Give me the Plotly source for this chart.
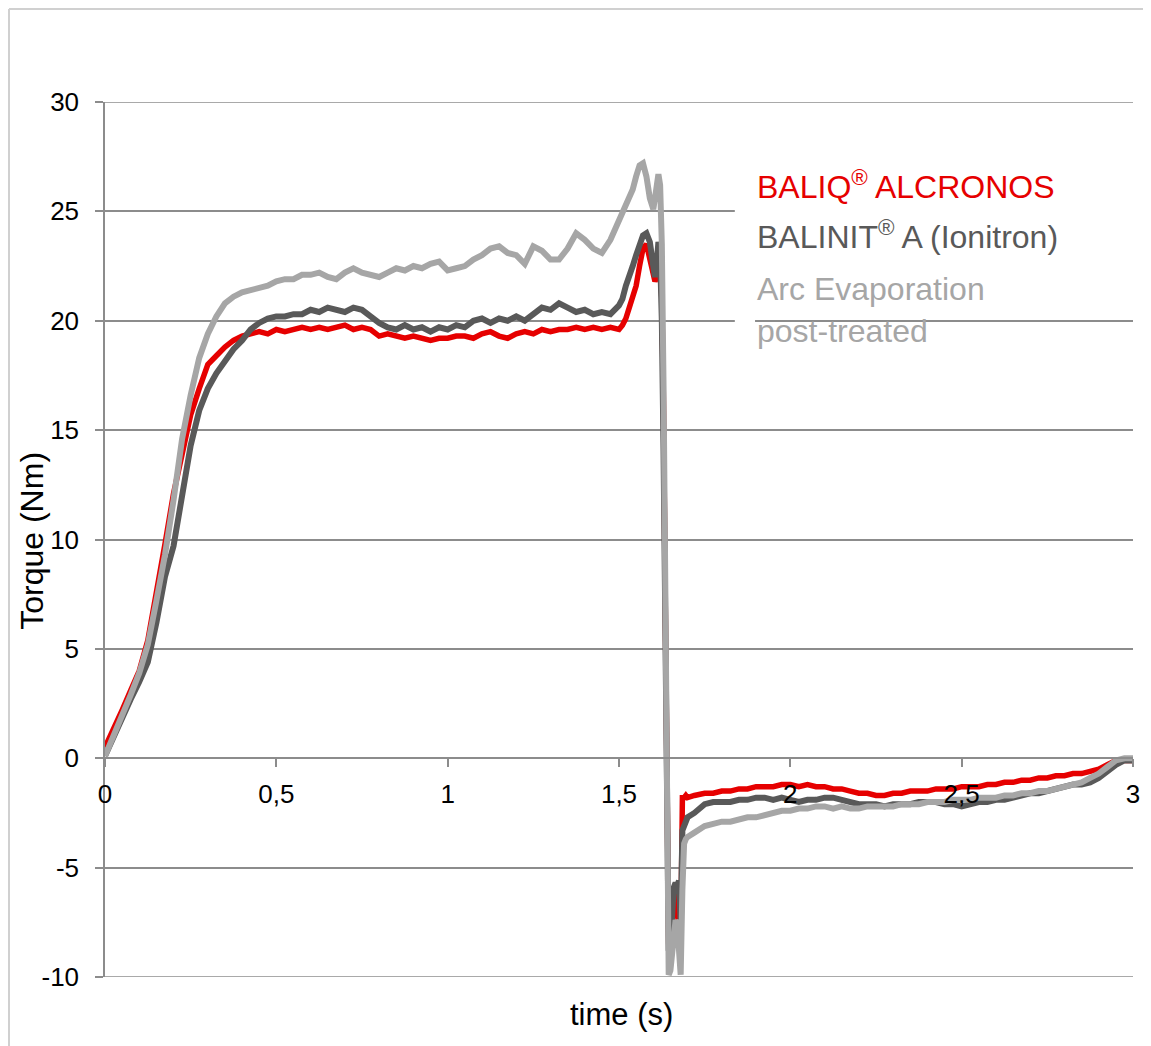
import plotly.graph_objects as go

# ---------------- data ----------------
time_s = [
    0.000, 0.025, 0.050, 0.075, 0.100, 0.125, 0.150, 0.175, 0.200, 0.225,
    0.250, 0.275, 0.300, 0.325, 0.350, 0.375, 0.400, 0.425, 0.450, 0.475,
    0.500, 0.525, 0.550, 0.575, 0.600, 0.625, 0.650, 0.675, 0.700, 0.725,
    0.750, 0.775, 0.800, 0.825, 0.850, 0.875, 0.900, 0.925, 0.950, 0.975,
    1.000, 1.025, 1.050, 1.075, 1.100, 1.125, 1.150, 1.175, 1.200, 1.225,
    1.250, 1.275, 1.300, 1.325, 1.350, 1.375, 1.400, 1.425, 1.450, 1.475,
    1.500,
    1.51, 1.52, 1.53, 1.54, 1.55, 1.56, 1.57, 1.58, 1.59, 1.60,
    1.605, 1.610, 1.615, 1.620, 1.625, 1.630, 1.635, 1.640, 1.645, 1.650,
    1.655, 1.660, 1.665, 1.670, 1.675, 1.680, 1.685, 1.690, 1.695, 1.700,
    1.72, 1.75,
    1.775, 1.800, 1.825, 1.850, 1.875, 1.900, 1.925, 1.950, 1.975, 2.000,
    2.025, 2.050, 2.075, 2.100, 2.125, 2.150, 2.175, 2.200, 2.225, 2.250,
    2.275, 2.300, 2.325, 2.350, 2.375, 2.400, 2.425, 2.450, 2.475, 2.500,
    2.525, 2.550, 2.575, 2.600, 2.625, 2.650, 2.675, 2.700, 2.725, 2.750,
    2.775, 2.800, 2.825, 2.850, 2.875, 2.900, 2.925, 2.950, 2.975, 3.000,
]

torque_baliq = [
    0.5, 1.3, 2.2, 3.1, 4.0, 5.4, 7.5, 9.8, 12.1, 14.0,
    15.7, 16.9, 18.0, 18.4, 18.8, 19.1, 19.3, 19.4, 19.5, 19.4,
    19.6, 19.5, 19.6, 19.7, 19.6, 19.7, 19.6, 19.7, 19.8, 19.6,
    19.7, 19.6, 19.3, 19.4, 19.3, 19.2, 19.3, 19.2, 19.1, 19.2,
    19.2, 19.3, 19.3, 19.2, 19.4, 19.5, 19.3, 19.2, 19.4, 19.5,
    19.4, 19.6, 19.5, 19.6, 19.6, 19.7, 19.6, 19.7, 19.6, 19.7,
    19.6,
    19.8, 20.1, 20.6, 21.1, 21.6, 22.5, 23.3, 23.5, 22.8, 21.9,
    21.8, 22.0, 22.4, 22.6, 21.0, 16.0, 7.0, -2.0, -8.5, -8.8,
    -7.5, -6.6, -6.0, -6.2, -8.0, -8.8, -1.8, -1.8, -1.7, -1.8,
    -1.7, -1.6,
    -1.6, -1.5, -1.5, -1.4, -1.4, -1.3, -1.3, -1.3, -1.2, -1.2,
    -1.3, -1.2, -1.3, -1.3, -1.4, -1.4, -1.5, -1.6, -1.6, -1.7,
    -1.7, -1.6, -1.6, -1.5, -1.5, -1.5, -1.4, -1.4, -1.4, -1.3,
    -1.3, -1.3, -1.2, -1.2, -1.1, -1.1, -1.0, -1.0, -0.9, -0.9,
    -0.8, -0.8, -0.7, -0.7, -0.6, -0.5, -0.3, -0.1, -0.1, -0.1,
]

torque_balinit = [
    0.1, 1.0, 1.9, 2.7, 3.5, 4.4, 6.2, 8.3, 9.7, 12.0,
    14.3, 15.9, 16.9, 17.6, 18.2, 18.7, 19.1, 19.6, 19.9, 20.1,
    20.2, 20.2, 20.3, 20.3, 20.5, 20.4, 20.6, 20.5, 20.4, 20.6,
    20.5, 20.2, 19.9, 19.7, 19.6, 19.8, 19.6, 19.7, 19.5, 19.7,
    19.6, 19.8, 19.7, 20.0, 20.1, 19.9, 20.1, 20.0, 20.2, 20.0,
    20.3, 20.6, 20.5, 20.8, 20.6, 20.4, 20.5, 20.3, 20.4, 20.3,
    20.7,
    21.0, 21.6, 22.0, 22.5, 23.0, 23.5, 23.9, 24.0, 23.6, 22.5,
    22.0, 22.6, 23.6, 23.0, 20.0, 14.0, 5.0, -4.0, -8.8, -8.5,
    -6.5, -5.9, -5.7, -5.8, -5.6, -7.5, -3.3, -3.1, -2.9, -2.7,
    -2.5, -2.1,
    -2.0, -2.0, -2.0, -1.9, -1.9, -1.8, -1.8, -1.9, -1.8, -1.9,
    -2.0, -1.9, -1.9, -1.8, -1.8, -1.9, -2.0, -2.1, -2.1, -2.1,
    -2.2, -2.1, -2.1, -2.1, -2.0, -2.0, -2.0, -2.1, -2.1, -2.2,
    -2.1, -2.0, -2.0, -1.9, -1.9, -1.8, -1.7, -1.6, -1.6, -1.5,
    -1.4, -1.3, -1.2, -1.2, -1.1, -0.9, -0.6, -0.3, -0.1, -0.1,
]

torque_arc = [
    0.1, 1.0, 2.0, 2.9, 3.9, 5.2, 7.2, 9.3, 11.8, 14.6,
    16.6, 18.3, 19.4, 20.2, 20.8, 21.1, 21.3, 21.4, 21.5, 21.6,
    21.8, 21.9, 21.9, 22.1, 22.1, 22.2, 22.0, 21.9, 22.2, 22.4,
    22.2, 22.1, 22.0, 22.2, 22.4, 22.3, 22.5, 22.4, 22.6, 22.7,
    22.3, 22.4, 22.5, 22.8, 23.0, 23.3, 23.4, 23.1, 23.0, 22.6,
    23.4, 23.2, 22.8, 22.8, 23.3, 24.0, 23.7, 23.3, 23.1, 23.7,
    24.6,
    25.0, 25.3, 25.6, 26.0, 26.6, 27.1, 27.2, 26.6, 25.6, 25.1,
    25.6, 26.4, 26.7, 26.2, 23.5, 17.0, 7.0, -3.0, -9.9, -9.7,
    -9.0, -8.0, -7.4, -7.6, -9.0, -9.9, -6.0, -3.9, -3.7, -3.6,
    -3.4, -3.1,
    -3.0, -2.9, -2.9, -2.8, -2.7, -2.7, -2.6, -2.5, -2.4, -2.4,
    -2.3, -2.3, -2.2, -2.2, -2.3, -2.2, -2.3, -2.3, -2.2, -2.2,
    -2.2, -2.2, -2.1, -2.1, -2.1, -2.0, -2.0, -2.0, -1.9, -1.9,
    -1.9, -1.8, -1.8, -1.8, -1.7, -1.7, -1.6, -1.6, -1.5, -1.5,
    -1.4, -1.3, -1.2, -1.1, -0.9, -0.7, -0.4, -0.1, 0.0, 0.0,
]

x_tick_vals = [0, 0.5, 1, 1.5, 2, 2.5, 3]
x_tick_text = ["0", "0,5", "1", "1,5", "2", "2,5", "3"]
y_tick_vals = [-10, -5, 0, 5, 10, 15, 20, 25, 30]
y_tick_text = ["-10", "-5", "0", "5", "10", "15", "20", "25", "30"]

series_names = ["BALIQ<sup>®</sup> ALCRONOS", "BALINIT<sup>®</sup> A (Ionitron)",
                "Arc Evaporation<br>post-treated"]
series_colors = ["#e60000", "#595959", "#a6a6a6"]

# ---------------- figure ----------------
FONT = "Liberation Sans, Arial, Helvetica, sans-serif"
GRID = "#8c8c8c"

fig = go.Figure()
for y, name, col, w in zip([torque_baliq, torque_balinit, torque_arc],
                           series_names, series_colors, [5.5, 6, 6]):
    fig.add_trace(go.Scatter(x=time_s, y=y, mode="lines", name=name,
                             line=dict(color=col, width=w), showlegend=False))

fig.update_layout(
    width=1151, height=1046,
    margin=dict(l=97, r=26, t=94, b=77),
    paper_bgcolor="white", plot_bgcolor="white",
    font=dict(family=FONT, color="black"),
    xaxis=dict(range=[0, 3], tickvals=x_tick_vals, ticktext=x_tick_text,
               showgrid=False, zeroline=False, showline=True,
               linecolor=GRID, linewidth=1.5,
               anchor="free", position=0.25, side="bottom",
               ticks="outside", ticklen=8, tickcolor=GRID, tickwidth=1.5,
               tickfont=dict(size=26, family=FONT, color="black"),
               ticklabelstandoff=5),
    yaxis=dict(range=[-10, 30], tickvals=y_tick_vals, ticktext=y_tick_text,
               showgrid=True, gridcolor=GRID, gridwidth=1.5,
               zeroline=False, showline=True, linecolor=GRID, linewidth=1.5,
               ticks="outside", ticklen=8, tickcolor=GRID, tickwidth=1.5,
               tickfont=dict(size=26, family=FONT, color="black"),
               ticklabelstandoff=11),
)

# gridlines at the range edges (30 and -10)
for yv in [30, -10]:
    fig.add_shape(type="line", xref="x", yref="y", x0=0, x1=3, y0=yv, y1=yv,
                  line=dict(color=GRID, width=1.5), layer="below")

# outer frame (light gray): only top and left edges are visible in the reference
fig.add_shape(type="line", xref="paper", yref="paper",
              x0=-0.0934, x1=1.05, y0=1.1063, y1=1.1063,
              line=dict(color="#d0d0d0", width=2), layer="below")
fig.add_shape(type="line", xref="paper", yref="paper",
              x0=-0.0934, x1=-0.0934, y0=-0.1, y1=1.1063,
              line=dict(color="#d0d0d0", width=2), layer="below")

# white boxes behind legend text covering gridlines
fig.add_shape(type="rect", xref="x", yref="y", x0=1.838, x1=3.0, y0=20.75, y1=27.8,
              line=dict(width=0), fillcolor="white", layer="between")
fig.add_shape(type="rect", xref="x", yref="y", x0=1.838, x1=1.897, y0=19.5, y1=20.75,
              line=dict(width=0), fillcolor="white", layer="between")

# legend-like coloured labels
legend_y = [0.905, 0.848, 0.7625]
for name, col, yy in zip(series_names, series_colors, legend_y):
    fig.add_annotation(text=name, xref="paper", yref="paper", x=0.632, y=yy,
                       xanchor="left", yanchor="middle", showarrow=False,
                       align="left", font=dict(size=32, color=col, family=FONT))

# axis titles
fig.add_annotation(text="time (s)", xref="paper", yref="paper", x=0.502, y=-0.0434,
                   xanchor="center", yanchor="middle", showarrow=False,
                   font=dict(size=31, color="black", family=FONT))
fig.add_annotation(text="Torque (Nm)", xref="paper", yref="paper", x=-0.0705, y=0.498,
                   xanchor="center", yanchor="middle", showarrow=False, textangle=-90,
                   font=dict(size=32, color="black", family=FONT))

fig.write_html("out.html")
